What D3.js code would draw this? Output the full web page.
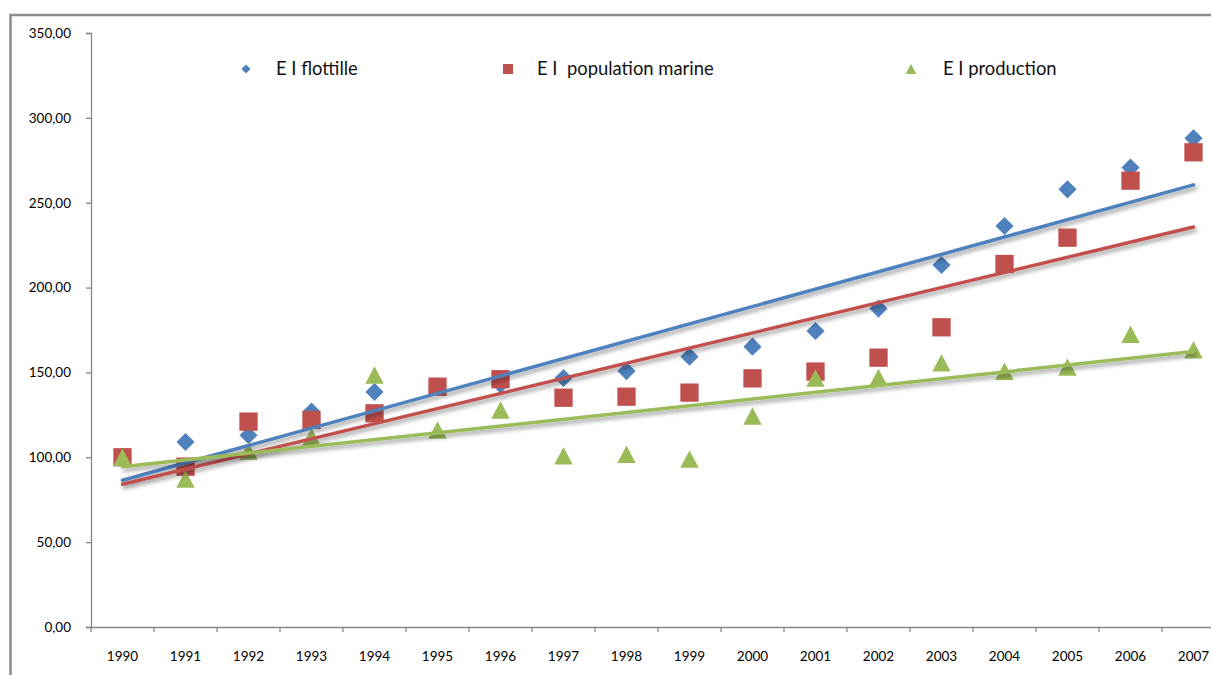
<!DOCTYPE html>
<html>
<head>
<meta charset="utf-8">
<script src="https://cdn.jsdelivr.net/npm/d3@7"></script>
<style>
  html, body { margin: 0; padding: 0; background: #fff; }
  svg { display: block; font-family: Lato, "Open Sans", sans-serif; }
  .legend text { white-space: pre; }
</style>
</head>
<body>
<svg id="chart" width="1211" height="675"></svg>
<script>
// Annual indices (1990 = 100)
const years = [1990, 1991, 1992, 1993, 1994, 1995, 1996, 1997, 1998, 1999,
               2000, 2001, 2002, 2003, 2004, 2005, 2006, 2007];
const flottille = [100, 109, 113, 127, 138.5, 142, 143, 146.7, 150.8, 159.3,
                   165.2, 174.4, 187.6, 213.3, 236.3, 257.9, 270.7, 288];
const populationMarine = [100, 94.5, 121, 122, 125.9, 141.6, 146, 135.1, 135.7, 138.1,
                          146.5, 150.5, 158.7, 176.6, 213.9, 229.4, 263, 279.7];
const production = [100, 87.2, 103.7, 112.1, 148.5, 116.1, 127.9, 100.9, 101.8, 99,
                    124.3, 146.7, 147.1, 155.6, 150.7, 153.2, 172.5, 163.4];
const yTicks = [0, 50, 100, 150, 200, 250, 300, 350];
const seriesNames = ["E I flottille", "E I  population marine", "E I production"];

const svg = d3.select("#chart");

// plot area
const plotL = 91, plotR = 1225, plotT = 33, plotB = 627;

const x = d3.scaleBand().domain(years).range([plotL, plotR]).padding(0);
const y = d3.scaleLinear().domain([0, 350]).range([plotB, plotT]);
const fr = d3.formatLocale({ decimal: ",", thousands: " ", grouping: [3], currency: ["", " €"] });
const fmt = fr.format(".2f");

// drop shadow used by the trend lines
const defs = svg.append("defs");
const f = defs.append("filter").attr("id", "shadow")
  .attr("x", "-5%").attr("y", "-50%").attr("width", "110%").attr("height", "200%");
f.append("feDropShadow").attr("dx", 2).attr("dy", 3).attr("stdDeviation", 2)
  .attr("flood-color", "#000").attr("flood-opacity", 0.4);

// outer frame (top and left edges visible)
svg.append("path")
  .attr("d", "M10.5,675 L10.5,15 L1211,15")
  .attr("fill", "none").attr("stroke", "#8c8c8c").attr("stroke-width", 2.5);

// y axis
const yAxis = d3.axisLeft(y).tickValues(yTicks).tickSize(5).tickPadding(15).tickFormat(fmt);
const gy = svg.append("g").attr("transform", `translate(${plotL},0)`).call(yAxis);
gy.select(".domain").attr("stroke", "#868686").attr("stroke-width", 1.3);
gy.selectAll(".tick line").attr("stroke", "#868686").attr("stroke-width", 1.3);
gy.selectAll(".tick text").attr("font-size", 13.5).attr("fill", "#000")
  .attr("font-family", "Lato, sans-serif");

// x axis: labels centred in categories, tick marks on category boundaries
const xAxis = d3.axisBottom(x).tickSize(0).tickPadding(24);
const gx = svg.append("g").attr("transform", `translate(0,${plotB})`).call(xAxis);
gx.select(".domain").attr("stroke", "#868686").attr("stroke-width", 1.3);
gx.selectAll(".tick text").attr("font-size", 13.5).attr("fill", "#000")
  .attr("font-family", "Lato, sans-serif");
gx.selectAll(".boundary")
  .data(years.concat([null]))
  .join("line")
  .attr("class", "boundary")
  .attr("x1", (d, i) => plotL + i * x.step())
  .attr("x2", (d, i) => plotL + i * x.step())
  .attr("y1", 0).attr("y2", 5)
  .attr("stroke", "#868686").attr("stroke-width", 1.3);

// marker shapes
const diamond = {
  draw(ctx, size) {
    const r = Math.sqrt(size * 2) / 2;
    ctx.moveTo(0, -r); ctx.lineTo(r, 0); ctx.lineTo(0, r); ctx.lineTo(-r, 0); ctx.closePath();
  }
};
const triangle = {
  draw(ctx, size) {
    const w = Math.sqrt(size * 2 * 18 / 17);
    const h = w * 17 / 18;
    ctx.moveTo(0, -h / 2); ctx.lineTo(w / 2, h / 2); ctx.lineTo(-w / 2, h / 2); ctx.closePath();
  }
};

const series = [
  { name: seriesNames[0], values: flottille, color: "#4F81BD", type: diamond, size: 165, lsize: 42 },
  { name: seriesNames[1], values: populationMarine, color: "#C0504D", type: d3.symbolSquare, size: 335, lsize: 100 },
  { name: seriesNames[2], values: production, color: "#9BBB59", type: triangle, size: 160, lsize: 55 }
];

const cx = d => x(d) + x.bandwidth() / 2;

// scatter markers
series.forEach(s => {
  svg.append("g").selectAll("path")
    .data(years.map((yr, i) => ({ yr, v: s.values[i] })))
    .join("path")
    .attr("transform", d => `translate(${cx(d.yr)},${y(d.v)})`)
    .attr("d", d3.symbol().type(s.type).size(s.size))
    .attr("fill", s.color);
});

// linear trend lines (least squares on the category index)
series.forEach(s => {
  const n = s.values.length;
  const xs = d3.range(n);
  const mx = d3.mean(xs), my = d3.mean(s.values);
  const slope = d3.sum(xs, i => (i - mx) * (s.values[i] - my)) / d3.sum(xs, i => (i - mx) ** 2);
  const icpt = my - slope * mx;
  const pts = [0, n - 1].map(i => [cx(years[i]), y(icpt + slope * i)]);
  svg.append("path")
    .attr("d", d3.line()(pts))
    .attr("stroke", s.color).attr("stroke-width", 3.5).attr("fill", "none")
    .attr("stroke-linecap", "round")
    .attr("filter", "url(#shadow)");
});

// legend
const legendPos = [[246, 276], [508, 537], [911, 943]];
const lg = svg.append("g").attr("class", "legend");
series.forEach((s, i) => {
  lg.append("path")
    .attr("transform", `translate(${legendPos[i][0]},69)`)
    .attr("d", d3.symbol().type(s.type).size(s.lsize))
    .attr("fill", s.color);
  lg.append("text")
    .attr("x", legendPos[i][1]).attr("y", 75)
    .attr("font-size", 18.4).attr("fill", "#111")
    .text(s.name);
});
</script>
</body>
</html>
